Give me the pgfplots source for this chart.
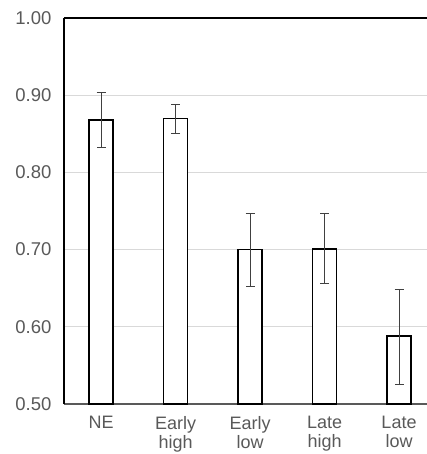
\documentclass[border=0pt]{standalone}
\usepackage{fontspec}
\setmainfont{Liberation Sans}
\usepackage{pgfplots}
\pgfplotsset{compat=1.18}
\definecolor{tickgray}{HTML}{595959}
\definecolor{gridgray}{HTML}{D9D9D9}
\definecolor{errgray}{HTML}{404040}

\begin{document}
\begin{tikzpicture}
\begin{axis}[
  name=ax,
  scale only axis,
  width=363pt, height=386pt,
  xmin=-0.5, xmax=4.376,
  ymin=0.5, ymax=1.0,
  axis x line*=bottom, axis y line*=left,
  x axis line style={draw=tickgray, line width=1.2pt, -},
  y axis line style={draw=black, line width=1.5pt, -},
  ytick={0.5,0.6,0.7,0.8,0.9,1.0},
  xtick={0,1,2,3,4},
  xticklabels={NE, Early\\high, Early\\low, Late\\high, Late\\low},
  major tick length=0pt,
  ymajorgrids, grid style={draw=gridgray, line width=0.8pt},
  tick label style={font=\fontsize{18.5}{21}\selectfont, text=tickgray},
  xticklabel style={align=center, font=\fontsize{18}{18.5}\selectfont, yshift=-9pt},
  yticklabel style={xshift=-9pt, /pgf/number format/.cd, fixed, precision=2, fixed zerofill, assume math mode=true},
  clip=false,
]
\addplot[ybar, bar width=24pt, fill=white, draw=black, line width=1.5pt,
  error bars/.cd, y dir=both, y explicit,
  error bar style={line width=0.8pt, draw=errgray},
  error mark options={rotate=90, mark size=4.5pt, line width=0.8pt, draw=errgray}]
coordinates {
  (0,0.868) += (0,0.035) -= (0,0.036)
  (1,0.870) += (0,0.018) -= (0,0.019)
  (2,0.700) += (0,0.047) -= (0,0.048)
  (3,0.701) += (0,0.046) -= (0,0.045)
  (4,0.588) += (0,0.061) -= (0,0.063)
};
\draw[black, line width=1.6pt] (rel axis cs:0,1) -- (rel axis cs:1,1);
\end{axis}
\pgfresetboundingbox
\useasboundingbox ([xshift=-64pt, yshift=18pt]ax.north west) rectangle ([yshift=-50pt]ax.south east);
\end{tikzpicture}
\end{document}
